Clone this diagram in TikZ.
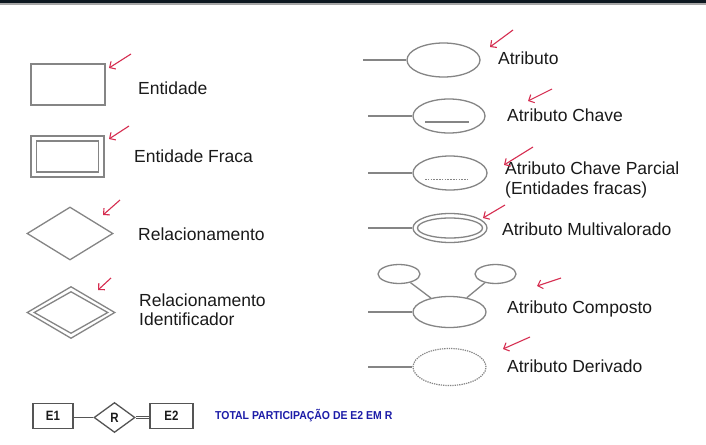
\documentclass[tikz,border=0pt]{standalone}
\usepackage{fontspec}
\usepackage{graphicx}
\setmainfont{Liberation Sans}
\usetikzlibrary{shapes.geometric,arrows.meta}
\definecolor{shp}{HTML}{858585}
\definecolor{shpd}{HTML}{555555}
\definecolor{redarr}{HTML}{D62D50}
\definecolor{txt}{HTML}{1A1A1A}
\definecolor{blu}{HTML}{1C1CA8}
\definecolor{topband}{HTML}{0D1820}
\begin{document}
\begin{tikzpicture}[x=1pt,y=-1pt,
  shape line/.style={draw=shp,line width=1.3pt},
  lbl/.style={anchor=west,inner sep=0,text=txt,font=\fontsize{17.5}{21}\selectfont},
  rarrow/.style={draw=redarr,line width=1.1pt,-{Straight Barb[length=4.5pt,width=9pt]}},
  attr/.style={shape line,ellipse,inner sep=0,minimum width=73pt,minimum height=34pt},
  ebox/.style={shape line,rectangle,inner sep=0},
  rel/.style={shape line,diamond,inner sep=0},
  btxt/.style={font=\bfseries\fontsize{13.5}{15}\selectfont,text=txt},
  small/.style={draw=shpd,line width=1.3pt,rectangle,inner sep=0,minimum width=40pt,minimum height=25pt,btxt}
]
\useasboundingbox (0,0) rectangle (706,444);
\fill[white] (0,0) rectangle (706,444);
\fill[topband] (0,0) rectangle (706,3.5);
\fill[gray!70] (0,3.5) rectangle (706,4.6);

% ---- left column ----
\node[ebox,minimum width=74pt,minimum height=41pt] (ent) at (68,84.5) {};
\node[lbl] (tent) at (138,88) {Entidade};
\coordinate (a1s) at (131,54); \coordinate (a1e) at (109,68);
\draw[rarrow] (a1s) -- (a1e);

\node[ebox,minimum width=73pt,minimum height=41pt] (fo) at (67.5,156.5) {};
\node[ebox,minimum width=62pt,minimum height=31pt] (fi) at (67.5,156.5) {};
\node[lbl] (tfr) at (134,156) {Entidade Fraca};
\coordinate (a2s) at (129,126); \coordinate (a2e) at (109,139);
\draw[rarrow] (a2s) -- (a2e);

\node[rel,minimum width=86pt,minimum height=53pt] (rel) at (70,233.5) {};
\node[lbl] (trel) at (138,234) {Relacionamento};
\coordinate (a3s) at (120,200); \coordinate (a3e) at (103,215);
\draw[rarrow] (a3s) -- (a3e);

\node[rel,minimum width=88pt,minimum height=52pt] (rio) at (71,312.5) {};
\node[rel,minimum width=74pt,minimum height=42pt] (rii) at (71,312.5) {};
\node[lbl,align=left] (trid) at (139,310) {Relacionamento\\[-2pt]Identificador};
\coordinate (a4s) at (111,278); \coordinate (a4e) at (98,290);
\draw[rarrow] (a4s) -- (a4e);

% ---- right column ----
\node[attr] (at1) at (443.5,60) {};
\coordinate (l1) at (363,60);
\draw[shape line] (l1) -- (at1.west);
\node[lbl] (tat1) at (498,58) {Atributo};
\coordinate (b1s) at (513,30); \coordinate (b1e) at (490,47);
\draw[rarrow] (b1s) -- (b1e);

\node[attr,minimum width=72pt] (at2) at (449,116) {};
\coordinate (l2) at (368,116);
\draw[shape line] (l2) -- (at2.west);
\coordinate (u2a) at (425,122); \coordinate (u2b) at (469,122);
\draw[draw=shp,line width=1.1pt] (u2a) -- (u2b);
\node[lbl] (tat2) at (507,115) {Atributo Chave};
\coordinate (b2s) at (552,89); \coordinate (b2e) at (528,101);
\draw[rarrow] (b2s) -- (b2e);

\node[attr,minimum width=74pt] (at3) at (450,173) {};
\coordinate (l3) at (368,173);
\draw[shape line] (l3) -- (at3.west);
\coordinate (u3a) at (425,179); \coordinate (u3b) at (468,179);
\draw[draw=shp,line width=0.9pt,dash pattern=on 1.6pt off 1.2pt] (u3a) -- (u3b);
\node[lbl,align=left,anchor=north west] (tat3) at (505,162) {Atributo Chave Parcial\\[-1pt](Entidades fracas)};
\coordinate (b3s) at (533,147); \coordinate (b3e) at (504,165);
\draw[rarrow] (b3s) -- (b3e);

\node[attr,minimum width=74pt,minimum height=29pt] (at4o) at (450,228) {};
\node[attr,minimum width=65pt,minimum height=20pt] (at4i) at (450,228) {};
\coordinate (l4) at (368,228);
\draw[shape line] (l4) -- (at4o.west);
\node[lbl] (tat4) at (502,229) {Atributo Multivalorado};
\coordinate (b4s) at (505,205); \coordinate (b4e) at (483,218);
\draw[rarrow] (b4s) -- (b4e);

\node[attr,minimum width=73pt,minimum height=31pt] (at5) at (449.5,312) {};
\node[attr,minimum width=42pt,minimum height=19pt] (at5a) at (399,274) {};
\node[attr,minimum width=41pt,minimum height=19pt] (at5b) at (495.5,274) {};
\coordinate (l5) at (368,312);
\draw[shape line] (l5) -- (at5.west);
\draw[shape line] (at5a) -- (at5);
\draw[shape line] (at5b) -- (at5);
\node[lbl] (tat5) at (507,309) {Atributo Composto};
\coordinate (b5s) at (561,278); \coordinate (b5e) at (537,286);
\draw[rarrow] (b5s) -- (b5e);

\node[attr,draw=none,minimum width=73pt,minimum height=37pt] (at6) at (449.5,367) {};
\draw[draw=shp,line width=1.2pt,dash pattern=on 1.3pt off 1pt] (at6.center) ellipse [x radius=36.5pt,y radius=18.5pt];
\coordinate (l6) at (368,367);
\draw[draw=shp,line width=2pt] (l6) -- (at6.west);
\node[lbl] (tat6) at (507,366) {Atributo Derivado};
\coordinate (b6s) at (530,337); \coordinate (b6e) at (503,349);
\draw[rarrow] (b6s) -- (b6e);

% ---- bottom ----
\node[small] (e1) at (53,416) {\scalebox{0.85}[1]{E1}};
\node[rel,draw=shpd,minimum width=41pt,minimum height=30pt] (r) at (114.5,417.5) {};
\node[btxt,inner sep=0] (rt) at (r.center) {\scalebox{0.85}[1]{R}};
\node[small,minimum width=43pt] (e2) at (171.5,416) {\scalebox{0.85}[1]{E2}};
\draw[draw=shpd,line width=1.3pt] (e1.east |- r.west) -- (r.west);
\draw[draw=shpd,line width=1.1pt,double=white,double distance=1.6pt] (r.east) -- (e2.west |- r.east);
\node[anchor=west,inner sep=0,text=blu,font=\bfseries\fontsize{11.5}{13}\selectfont] (tot) at (215,415.5) {\scalebox{0.91}[1]{TOTAL PARTICIPAÇÃO DE E2 EM R}};
\end{tikzpicture}
\end{document}
